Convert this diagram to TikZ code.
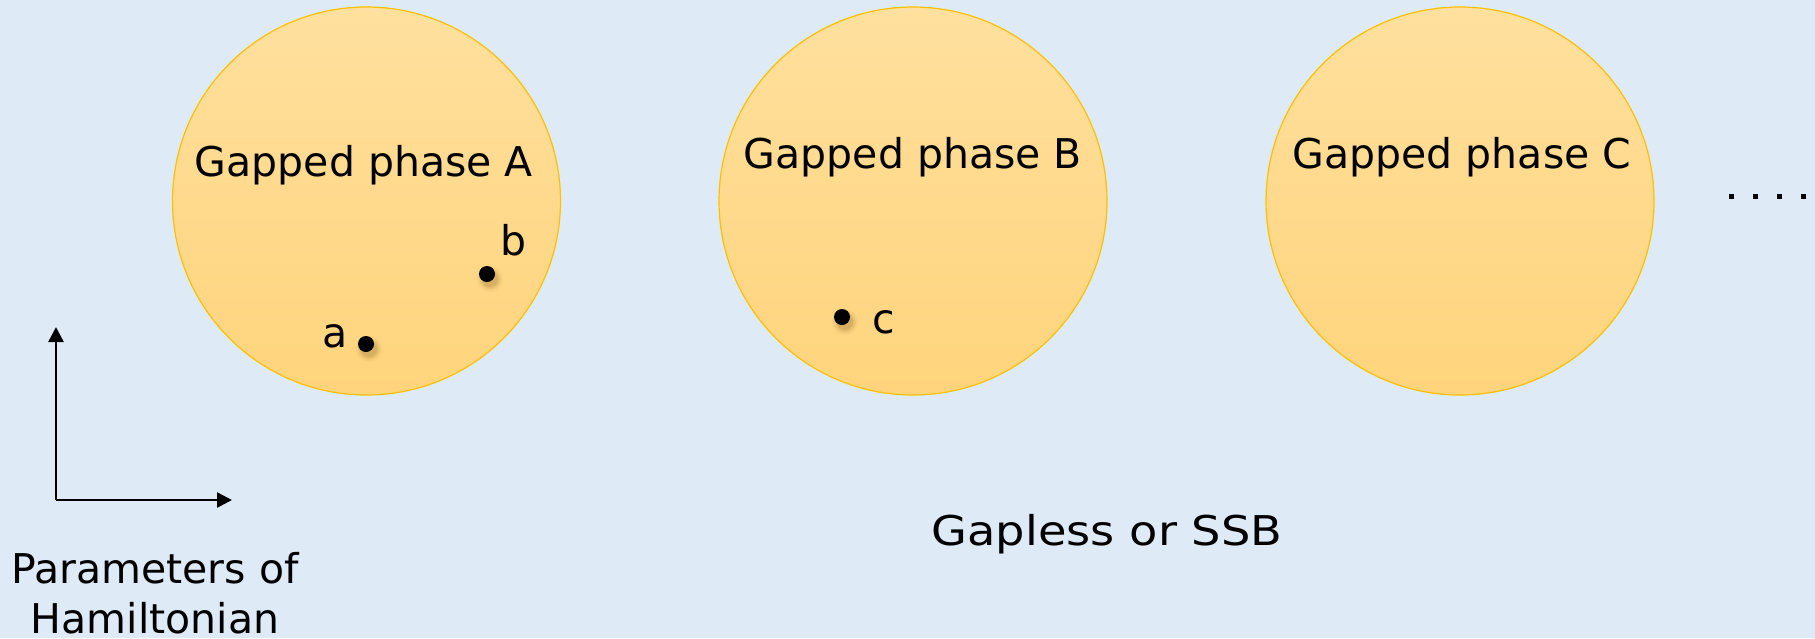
\documentclass[tikz,border=0pt]{standalone}
\usepackage{fontspec}
\setmainfont{DejaVu Sans}
\usetikzlibrary{arrows.meta}
\definecolor{bg}{HTML}{DEEBF7}
\definecolor{ctop}{HTML}{FFE09E}
\definecolor{cbot}{HTML}{FFD47C}
\definecolor{cline}{HTML}{FFC000}
\definecolor{shd}{HTML}{7A5A1A}
\tikzset{
  phase/.style={circle, minimum size=388pt, inner sep=0pt, draw=cline, line width=1.2pt, top color=ctop, bottom color=cbot},
  lbl/.style={font=\fontsize{41}{50}\selectfont, inner sep=0pt, text=black, anchor=base},
  pt/.style={circle, fill=black, minimum size=16pt, inner sep=0pt},
  axis/.style={line width=2.6pt, -{Triangle[length=15pt, width=15pt]}},
  dotsq/.style={fill=black, minimum size=5pt, inner sep=0pt}
}
\newcommand{\softshadow}[1]{%
  \foreach \r/\o in {13/0.05,11/0.07,9.5/0.09,8/0.12}{\fill[shd, opacity=\o] (#1) circle (\r pt);}%
}
\begin{document}
\begin{tikzpicture}[x=1pt,y=-1pt]
\useasboundingbox (0,0) rectangle (1815,638);
\fill[bg] (0,0) rectangle (1815,638);
% circles
\node[phase] (A) at (366.5,201) {};
\node[phase] (B) at (913,201) {};
\node[phase] (C) at (1460,201) {};
\node[lbl] (tA) at (364,176) {Gapped phase A};
\node[lbl] (tB) at (913,168) {Gapped phase B};
\node[lbl] (tC) at (1462,168) {Gapped phase C};
% points with shadows
\coordinate (sa) at (369,349);
\coordinate (sb) at (490,279);
\coordinate (sc) at (845,322);
\softshadow{sa}
\softshadow{sb}
\softshadow{sc}
\node[pt] (a) at (366,344) {};
\node[pt] (b) at (487,274) {};
\node[pt] (c) at (842,317) {};
\node[lbl] (la) at (335,347) {a};
\node[lbl] (lb) at (514,255) {b};
\node[lbl] (lc) at (884,333) {c};
% axes
\coordinate (O) at (56,500);
\coordinate (Ytip) at (56,327);
\coordinate (Xtip) at (232,500);
\draw[axis] (O) -- (Ytip);
\draw[axis] (O) -- (Xtip);
\node[lbl] (param1) at (155,583) {Parameters of};
\node[lbl] (param2) at (155,633) {Hamiltonian};
\node[lbl] (gapless) at (1107,545) {\scalebox{1.13}[1]{Gapless or SSB}};
% ellipsis dots
\node[dotsq] (d1) at (1731,196) {};
\node[dotsq] (d2) at (1755,196) {};
\node[dotsq] (d3) at (1779,196) {};
\node[dotsq] (d4) at (1803,196) {};
\end{tikzpicture}
\end{document}
